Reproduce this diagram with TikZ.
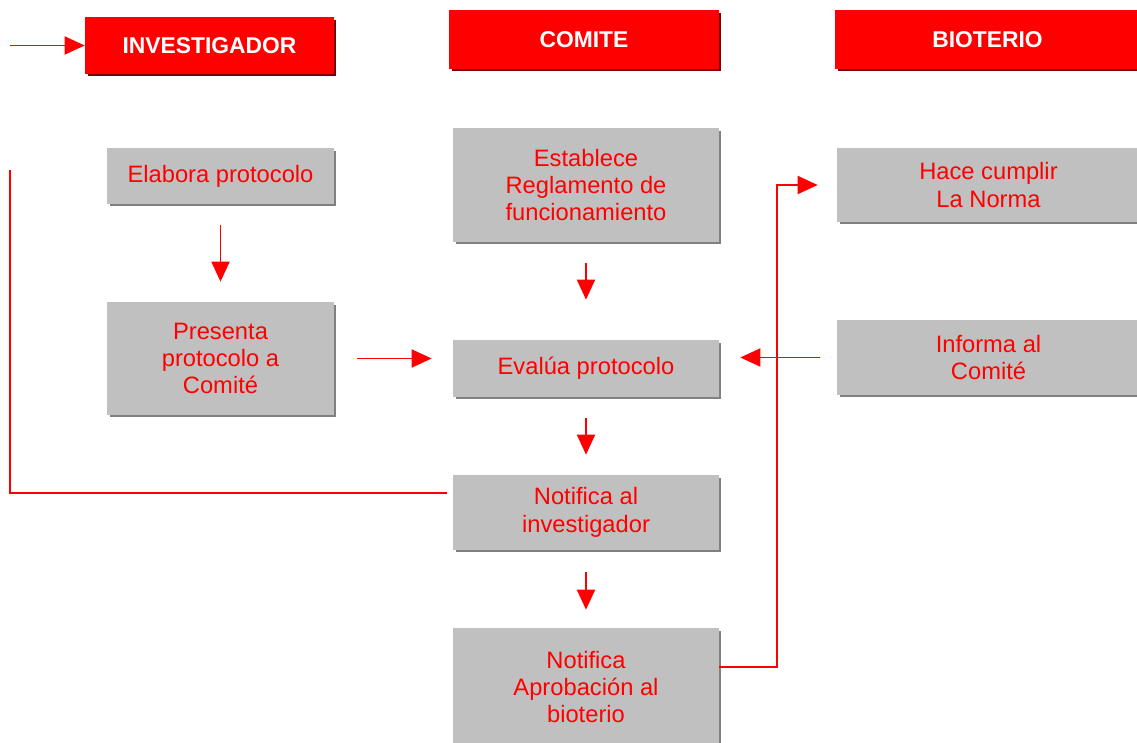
\documentclass[tikz,border=0pt]{standalone}
\usepackage{fontspec}
\setmainfont{Liberation Sans}
\usepackage{tikz}
\usetikzlibrary{shadows}
\usetikzlibrary{arrows.meta}

\definecolor{boxred}{RGB}{255,0,0}
\definecolor{boxgray}{RGB}{192,192,192}
\definecolor{darkgray}{RGB}{128,128,128}
\definecolor{darkred}{RGB}{128,0,0}

\begin{document}
\begin{tikzpicture}[x=0.02cm,y=-0.02cm,
    headbox/.style={fill=boxred,text=white,inner sep=0pt,
      font=\fontsize{13}{15.6}\selectfont\bfseries,
      drop shadow={shadow xshift=0.05cm,shadow yshift=-0.05cm,fill=darkred,opacity=1}},
    procbox/.style={fill=boxgray,text=boxred,inner sep=0pt,align=center,
      font=\fontsize{13.5}{15.6}\selectfont,
      drop shadow={shadow xshift=0.05cm,shadow yshift=-0.05cm,fill=darkgray,opacity=1}},
    conn/.style={draw=boxred,line width=1.1pt},
    arr/.style={conn,-{Triangle[length=0.4cm,width=0.36cm]}}
    ]
  \useasboundingbox (0,0) rectangle (1137,743);

  % columns
  \node[headbox,minimum width=4.98cm,minimum height=1.14cm] (inv) at (209.5,45.5) {INVESTIGADOR};
  \node[headbox,minimum width=5.4cm,minimum height=1.18cm] (com) at (584,39.5) {COMITE};
  \node[headbox,minimum width=6.1cm,minimum height=1.18cm] (bio) at (987.5,39.5) {BIOTERIO};

  % steps
  \node[procbox,minimum width=4.54cm,minimum height=1.12cm] (elab) at (220.5,176) {Elabora protocolo};
  \node[procbox,minimum width=4.54cm,minimum height=2.26cm] (pres) at (220.5,358.5) {Presenta\\protocolo a\\Comité};
  \node[procbox,minimum width=5.32cm,minimum height=2.28cm] (est) at (586,185) {Establece\\Reglamento de\\funcionamiento};
  \node[procbox,minimum width=5.32cm,minimum height=1.14cm] (eval) at (586,368.5) {Evalúa protocolo};
  \node[procbox,minimum width=5.32cm,minimum height=1.5cm] (notinv) at (586,512.5) {Notifica al\\investigador};
  \node[procbox,minimum width=5.32cm,minimum height=2.36cm] (notapr) at (586,687) {Notifica\\Aprobación al\\bioterio};
  \node[procbox,minimum width=6.06cm,minimum height=1.48cm] (hace) at (988.5,185) {Hace cumplir\\La Norma};
  \node[procbox,minimum width=6.06cm,minimum height=1.5cm] (inf) at (988.5,357.5) {Informa al\\Comité};

  \coordinate (start) at (10,45.5);
  \coordinate (ret) at (10,170);

  % connectors
  \draw[arr] (start) -- (inv.west);
  \draw[arr,shorten <=0.42cm,shorten >=0.4cm] (elab) -- (pres);
  \draw[arr,shorten <=0.42cm,shorten >=0.8cm] (est) -- (eval);
  \draw[arr,shorten <=0.42cm,shorten >=0.4cm] (eval) -- (notinv);
  \draw[arr,shorten <=0.44cm,shorten >=0.36cm] (notinv) -- (notapr);
  \draw[arr,shorten <=0.46cm,shorten >=0.42cm] (pres.east) -- (pres.east -| eval.west);
  \draw[arr,shorten <=0.34cm,shorten >=0.42cm] (inf.west) -- (inf.west -| eval.east);
  \draw[arr,shorten >=0.38cm] ([yshift=0.4cm]notapr.east) -- ++(58,0) |- (hace.west);
  \draw[conn,shorten <=0.12cm] ([yshift=0.39cm]notinv.west) -| (ret);
\end{tikzpicture}
\end{document}
